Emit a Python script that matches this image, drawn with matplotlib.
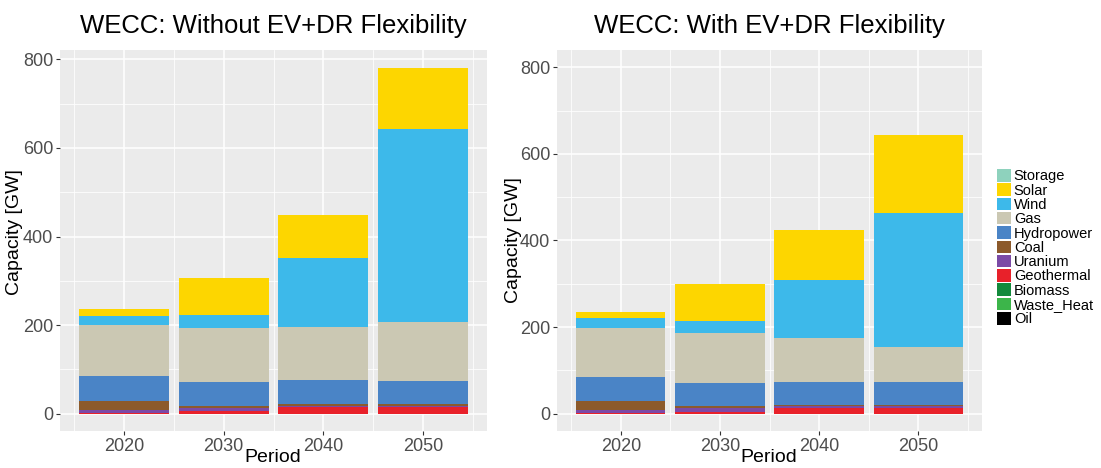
import numpy as np
import matplotlib.pyplot as plt
from matplotlib.patches import Patch
from matplotlib.ticker import MultipleLocator

plt.rcParams['font.family'] = ['Liberation Sans', 'DejaVu Sans']

# Installed capacity [GW] by technology and period
periods = [2020, 2030, 2040, 2050]

# without EV+DR flexibility
storage_base    = [0, 0, 0, 0]
solar_base      = [17, 84, 96, 138]
wind_base       = [20, 29, 157, 436]
gas_base        = [116, 122, 120, 132]
hydro_base      = [55, 54, 53, 53]
coal_base       = [20, 5, 4, 4]
uranium_base    = [7, 7, 4, 3]
geothermal_base = [2, 5, 14, 14]
biomass_base    = [0, 0, 0, 0]
wasteheat_base  = [0, 0, 0, 0]
oil_base        = [0, 0, 0, 0]

# with EV+DR flexibility
storage_flex    = [0, 0, 0, 0]
solar_flex      = [16, 85, 115, 180]
wind_flex       = [21, 28, 134, 310]
gas_flex        = [115, 117, 101, 80]
hydro_flex      = [55, 52, 53, 52]
coal_flex       = [20, 6, 3, 4]
uranium_flex    = [7, 7, 4, 3]
geothermal_flex = [2, 5, 14, 14]
biomass_flex    = [0, 0, 0, 0]
wasteheat_flex  = [0, 0, 0, 0]
oil_flex        = [0, 0, 0, 0]

techs = ['Storage', 'Solar', 'Wind', 'Gas', 'Hydropower', 'Coal', 'Uranium',
         'Geothermal', 'Biomass', 'Waste_Heat', 'Oil']
colors = ['#8ed2bd', '#fdd600', '#3db9ea', '#cbc8b3', '#4a84c6', '#8c5a2b',
          '#7b4aa6', '#e8212a', '#138a3c', '#3cb54a', '#000000']

base = [storage_base, solar_base, wind_base, gas_base, hydro_base, coal_base,
        uranium_base, geothermal_base, biomass_base, wasteheat_base, oil_base]
flex = [storage_flex, solar_flex, wind_flex, gas_flex, hydro_flex, coal_flex,
        uranium_flex, geothermal_flex, biomass_flex, wasteheat_flex, oil_flex]

W, H = 1101, 468
fig = plt.figure(figsize=(W / 100, H / 100), dpi=100)

def px_axes(x0, x1, y0, y1):
    return fig.add_axes([x0 / W, 1 - y1 / H, (x1 - x0) / W, (y1 - y0) / H])

def draw(ax, data, title, ylim):
    bottom = np.zeros(len(periods))
    # ggplot stacks the last legend entry at the bottom
    for vals, c in zip(data[::-1], colors[::-1]):
        ax.bar(periods, vals, width=9, bottom=bottom, color=c, zorder=3)
        bottom += np.array(vals)
    ax.set_facecolor('#ebebeb')
    ax.set_xlim(2013.55, 2056.45)
    ax.set_ylim(*ylim)
    ax.set_xticks(periods)
    ax.xaxis.set_minor_locator(plt.FixedLocator([2015, 2025, 2035, 2045, 2055]))
    ax.yaxis.set_major_locator(MultipleLocator(200))
    ax.yaxis.set_minor_locator(plt.FixedLocator([100, 300, 500, 700]))
    ax.grid(which='major', color='white', lw=1.1, zorder=0)
    ax.grid(which='minor', color='white', lw=0.55, zorder=0)
    ax.tick_params(which='major', length=3, width=0.8, color='#333333',
                   labelcolor='#4d4d4d', labelsize=13, pad=2)
    ax.tick_params(which='minor', length=0)
    for s in ax.spines.values():
        s.set_visible(False)
    ax.set_title(title, fontsize=18.5, pad=12)

ax1 = px_axes(60, 487, 50, 431)
draw(ax1, base, 'WECC: Without EV+DR Flexibility', (-39.1, 821.1))
ax2 = px_axes(557, 982, 50, 431)
draw(ax2, flex, 'WECC: With EV+DR Flexibility', (-40, 840))

fig.text(15 / W, 1 - 232 / H, 'Capacity [GW]', rotation=90, ha='center', va='center', fontsize=14)
fig.text(514 / W, 1 - 240 / H, 'Capacity [GW]', rotation=90, ha='center', va='center', fontsize=14)
fig.text(273 / W, 1 - 458 / H, 'Period', ha='center', va='center', fontsize=14)
fig.text(769 / W, 1 - 458 / H, 'Period', ha='center', va='center', fontsize=14)

handles = [Patch(facecolor=c, edgecolor='none') for c in colors]
fig.legend(handles, techs, loc='upper left', bbox_to_anchor=(997 / W, 1 - 169 / H),
           frameon=False, fontsize=10.5, handlelength=0.95, handleheight=0.95,
           handletextpad=0.2, labelspacing=0.0, borderpad=0, borderaxespad=0)

fig.savefig('out.png', dpi=100)
